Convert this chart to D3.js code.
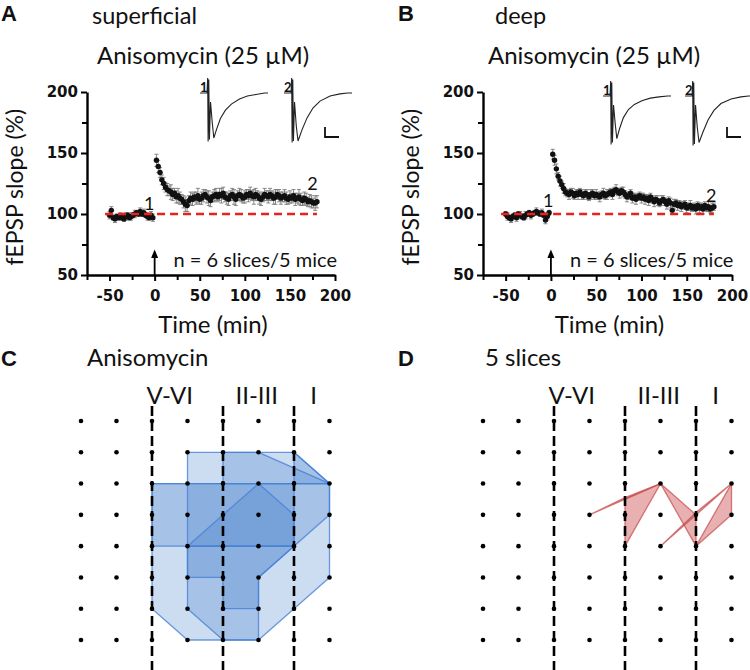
<!DOCTYPE html>
<html>
<head>
<meta charset="utf-8">
<script src="https://cdn.jsdelivr.net/npm/d3@7"></script>
<style>
  body { margin: 0; background: #fff; }
  text { font-family: Lato, "Open Sans", sans-serif; fill: #111; }
  .tick text { font-family: "DejaVu Sans", sans-serif; font-weight: bold; font-size: 15px; }
</style>
</head>
<body>
<svg id="fig" width="750" height="670"></svg>
<script>
// ---- data: sampling times (min) ----
const timesPre = [-50,-48,-46,-44,-42,-40,-38,-36,-34,-32,-30,-28,-26,-24,-22,-20,-18,-16,-14,-12,-10,-8,-6,-4,-2];
const timesPost = [2,4,6,8,10,12,14,16,18,20,22,24,26,28,30,32,34,36,38,40,
  42,44,46,48,50,52,54,56,58,60,62,64,66,68,70,72,74,76,78,80,
  82,84,86,88,90,92,94,96,98,100,102,104,106,108,110,112,114,116,118,120,
  122,124,126,128,130,132,134,136,138,140,142,144,146,148,150,152,154,156,158,160,
  162,164,166,168,170,172,174,176,178,180];

// superficial (A)
const supPre = [99,103,97,96,98,97,98,97,96,98,99,97,98,99,100,101,100,102,100,101,99,98,97,99,97];
const supPreErr = [3,3,2,3,2,2,3,2,2,3,2,2,3,2,3,2,2,3,2,3,2,3,2,3,3];
const supPost = [144,139,134,128,125,122,120,119,118,116,
  117,114,115,113,112,110,108,107,111,113,
  112,114,113,115,112,113,115,116,114,113,
  111,114,115,116,114,116,115,117,114,113,
  112,115,116,114,112,115,116,115,113,114,
  116,115,117,115,114,116,115,113,112,114,
  116,115,114,116,115,113,114,116,115,113,
  114,115,113,112,114,113,115,112,113,114,
  112,111,113,112,110,111,110,109,109,110];
const supPostErr = [5,5,4,4,5,4,5,4,6,5, 4,5,6,5,4,5,6,5,4,5, 5,4,5,6,4,5,5,4,5,6,
  5,4,5,5,4,5,6,5,4,5, 5,4,5,6,5,4,5,5,4,5, 4,5,5,4,6,5,4,5,5,4,
  5,4,5,5,4,5,6,4,5,5, 4,5,5,4,5,4,5,5,4,6, 5,4,5,5,4,5,5,4,6,5];

// deep (B)
const deepPre = [100,98,97,96,98,99,97,100,99,98,97,99,100,101,99,100,101,102,101,100,101,99,95,98,101];
const deepPreErr = [2,3,2,3,2,2,3,2,3,2,2,3,2,2,3,2,2,3,2,2,3,2,3,3,2];
const deepPost = [149,144,137,131,127,124,121,118,117,116,
  118,117,115,117,116,118,116,115,117,116,
  114,116,117,115,116,115,114,116,117,115,
  116,117,118,116,119,120,118,117,119,118,
  116,114,115,117,113,114,112,114,115,113,
  114,112,113,111,114,112,110,112,111,109,
  111,112,110,108,111,109,103,108,109,107,
  108,106,107,108,105,106,107,105,106,104,
  107,105,106,104,107,105,106,104,105,106];
const deepPostErr = [4,4,4,3,4,3,4,3,3,4, 3,4,3,3,4,3,4,3,3,4, 3,4,3,3,4,3,4,3,4,3,
  4,3,3,4,3,4,3,4,3,4, 3,4,3,3,4,3,4,3,3,4, 3,4,3,4,3,3,4,3,4,3,
  4,3,3,4,3,4,3,4,3,4, 3,4,3,3,4,3,4,3,3,4, 3,4,3,4,3,3,4,3,4,3];

// fEPSP example traces: time (ms), voltage (mV)
const traceT1 = [0,3.2,3.5,3.7,4.0,4.3,4.8,5.6,6.3,7.5,9.3,11.6,14.3,18,21.6,25.5,29.5,31];
const supTrace1 = [0,0,0.5,-1.62,0.45,-1.55,-0.3,-1.0,-1.5,-1.22,-0.85,-0.57,-0.37,-0.2,-0.1,-0.05,0,0];
const deepTrace1 = [0,0,0.5,-1.62,0.45,-1.55,-0.3,-0.95,-1.42,-1.1,-0.72,-0.45,-0.28,-0.15,-0.07,-0.03,0,0];
const traceT2 = [0,3.2,3.5,3.7,4.0,4.3,4.8,5.6,6.4,8.2,10.5,13.2,16.4,21,25.5,29,31];
const supTrace2 = [0,0,0.5,-1.65,0.45,-1.6,-0.3,-1.1,-1.6,-1.23,-0.83,-0.5,-0.27,-0.1,-0.03,0,0];
const deepTrace2 = [0,0,0.5,-1.65,0.45,-1.6,-0.3,-1.05,-1.55,-1.2,-0.8,-0.48,-0.25,-0.1,-0.03,0,0];

// grid maps (col, row)
const gridCols = [0,1,2,3,4,5,6,7];
const gridRows = [0,1,2,3,4,5,6,7];
const layerCols = [2,4,6];
const anisoPolys = [
  [[2,2],[7,2],[7,5],[5,7],[3,7],[2,6]],
  [[3,1],[6,1],[7,2],[7,3],[5,5],[5,7],[4,7],[3,6],[3,4],[2,4],[2,2],[3,2]],
  [[3,2],[6,2],[6,4],[3,4]],
  [[3,4],[5,2],[6,3],[6,4]],
  [[4,1],[5,1],[7,2],[4,2]],
  [[6,1],[7,2],[6,2]],
  [[3,4],[6,4],[5,5],[5,6],[4,6],[4,5],[3,5]]
];
const slicePolys = [
  [[3,3],[5,2],[4,2.45]],
  [[4,2.5],[5,2],[4,4]],
  [[5,2],[6,3],[6,4]],
  [[6,4],[7,2],[7,3]],
  [[5,4],[7,2],[6,2.92]]
];

const svg = d3.select("#fig");
const y = d3.scaleLinear().domain([50, 200]).range([275, 92]);

function drawLTP(xr, pre, preErr, post, postErr, lab1, lab2) {
  const g = svg.append("g");
  const x = d3.scaleLinear().domain([-75, 200]).range(xr);
  const times = timesPre.concat(timesPost);
  const vals = pre.concat(post);
  const errs = preErr.concat(postErr);
  const pts = times.map((t, i) => ({t: t, v: vals[i], e: errs[i]}));

  // error bars
  const eb = g.append("g").attr("stroke", "#7a7a7a").attr("stroke-width", 0.9);
  eb.selectAll("line.v").data(pts).join("line").attr("class", "v")
    .attr("x1", d => x(d.t)).attr("x2", d => x(d.t))
    .attr("y1", d => y(d.v - d.e)).attr("y2", d => y(d.v + d.e));
  eb.selectAll("line.ct").data(pts).join("line").attr("class", "ct")
    .attr("x1", d => x(d.t) - 2).attr("x2", d => x(d.t) + 2)
    .attr("y1", d => y(d.v + d.e)).attr("y2", d => y(d.v + d.e));
  eb.selectAll("line.cb").data(pts).join("line").attr("class", "cb")
    .attr("x1", d => x(d.t) - 2).attr("x2", d => x(d.t) + 2)
    .attr("y1", d => y(d.v - d.e)).attr("y2", d => y(d.v - d.e));

  g.selectAll("circle").data(pts).join("circle")
    .attr("cx", d => x(d.t)).attr("cy", d => y(d.v)).attr("r", 2.7).attr("fill", "#111");

  // 100% reference
  g.append("line")
    .attr("x1", x(-55)).attr("x2", x(180)).attr("y1", y(100)).attr("y2", y(100))
    .attr("stroke", "#e5231f").attr("stroke-width", 2.4).attr("stroke-dasharray", "8,5");

  // axes
  g.append("g").attr("transform", `translate(0,${y(50)})`)
    .call(d3.axisBottom(x).tickValues([-50, 0, 50, 100, 150, 200]).tickSize(6).tickSizeOuter(0).tickPadding(9).tickFormat(d => String(d)));
  const xm = g.append("g").attr("transform", `translate(0,${y(50)})`)
    .call(d3.axisBottom(x).tickValues([-75, -25, 25, 75, 125, 175]).tickSize(5).tickFormat(""));
  xm.select(".domain").remove();
  g.append("g").attr("transform", `translate(${xr[0]},0)`)
    .call(d3.axisLeft(y).tickValues([50, 100, 150, 200]).tickSize(6).tickSizeOuter(0).tickPadding(3));
  const ym = g.append("g").attr("transform", `translate(${xr[0]},0)`)
    .call(d3.axisLeft(y).tickValues([75, 125, 175]).tickSize(5).tickFormat(""));
  ym.select(".domain").remove();
  g.selectAll(".domain").attr("stroke", "#000").attr("stroke-width", 2.4);
  g.selectAll(".tick line").attr("stroke", "#000").attr("stroke-width", 2);

  // arrow at drug application
  const ax = x(0);
  g.append("line").attr("x1", ax).attr("x2", ax).attr("y1", y(50)).attr("y2", y(68))
    .attr("stroke", "#000").attr("stroke-width", 1.8);
  g.append("path").attr("d", `M${ax - 3.5},${y(64)} L${ax},${y(71)} L${ax + 3.5},${y(64)} Z`).attr("fill", "#000");

  g.append("text").attr("x", x(21)).attr("y", 267).attr("font-size", 20).text("n = 6 slices/5 mice");
  g.append("text").attr("x", x(lab1[0])).attr("y", y(lab1[1])).attr("font-size", 18).attr("text-anchor", "middle").text("1");
  g.append("text").attr("x", x(lab2[0])).attr("y", y(lab2[1])).attr("font-size", 18).attr("text-anchor", "middle").text("2");

  g.append("text").attr("x", (xr[0] + xr[1]) / 2 + 2).attr("y", 333).attr("font-size", 24)
    .attr("text-anchor", "middle").text("Time (min)");
  g.append("text").attr("transform", `translate(${xr[0] - 73},${y(122)}) rotate(-90)`)
    .attr("font-size", 23).attr("text-anchor", "middle").attr("dominant-baseline", "central")
    .text("fEPSP slope (%)");
}

function drawTrace(x0, y0, times, volts, label) {
  const tx = d3.scaleLinear().domain([0, 31]).range([x0, x0 + 68]);
  const ty = d3.scaleLinear().domain([0, -1.5]).range([y0, y0 + 45]);
  const line = d3.line().x((d, i) => tx(times[i])).y(d => ty(d));
  svg.append("path").attr("d", line(volts)).attr("fill", "none")
    .attr("stroke", "#222").attr("stroke-width", 1.1);
  svg.append("text").attr("x", x0).attr("y", y0 - 1).attr("font-size", 13).attr("font-weight", "bold").text(label);
}

function scaleBar(x0, y0) {
  svg.append("path").attr("d", `M${x0},${y0} V${y0 + 10} H${x0 + 14}`)
    .attr("fill", "none").attr("stroke", "#111").attr("stroke-width", 1.8);
}

function drawGrid(xr, polys, fill, stroke) {
  const g = svg.append("g");
  const gx = d3.scaleLinear().domain([0, 7]).range(xr);
  const gy = d3.scaleLinear().domain([0, 7]).range([421, 640]);
  g.selectAll("polygon").data(polys).join("polygon")
    .attr("points", d => d.map(p => [gx(p[0]), gy(p[1])].join(",")).join(" "))
    .attr("fill", fill).attr("stroke", stroke).attr("stroke-width", 1.3).attr("stroke-linejoin", "round");
  g.selectAll("line.layer").data(layerCols).join("line").attr("class", "layer")
    .attr("x1", d => gx(d)).attr("x2", d => gx(d)).attr("y1", 406).attr("y2", 672)
    .attr("stroke", "#000").attr("stroke-width", 2.6).attr("stroke-dasharray", "10,5");
  const dots = [];
  gridCols.forEach(c => gridRows.forEach(r => dots.push([c, r])));
  g.selectAll("circle").data(dots).join("circle")
    .attr("cx", d => gx(d[0])).attr("cy", d => gy(d[1])).attr("r", 2.3).attr("fill", "#000");
  const hdr = [["V-VI", 2.5], ["II-III", 4.95], ["I", 6.55]];
  g.selectAll("text.hdr").data(hdr).join("text").attr("class", "hdr")
    .attr("x", d => gx(d[1])).attr("y", 404).attr("font-size", 24).attr("text-anchor", "middle")
    .text(d => d[0]);
}

// panel titles
function title(x, y, s, size, bold) {
  svg.append("text").attr("x", x).attr("y", y).attr("font-size", size)
    .attr("font-weight", bold ? "bold" : null)
    .style("font-family", bold ? "'Liberation Sans', Arial, sans-serif" : null).text(s);
}
title(1, 21, "A", 22, true);
title(92, 24, "superficial", 23.5);
title(97, 64, "Anisomycin (25 µM)", 24);
title(398, 21, "B", 22, true);
title(495, 24, "deep", 23.5);
title(488, 64, "Anisomycin (25 µM)", 24);
title(1, 366, "C", 22, true);
title(87, 366, "Anisomycin", 24);
title(398, 366, "D", 22, true);
title(485, 366, "5 slices", 24);

drawLTP([87, 335], supPre, supPreErr, supPost, supPostErr, [-6, 103], [175, 120]);
drawLTP([483, 732], deepPre, deepPreErr, deepPost, deepPostErr, [-3, 106], [177, 110]);

drawTrace(200, 93, traceT1, supTrace1, "1");
drawTrace(284, 93, traceT2, supTrace2, "2");
scaleBar(325, 127);
drawTrace(603, 96, traceT1, deepTrace1, "1");
drawTrace(685, 96, traceT2, deepTrace2, "2");
scaleBar(727, 127);

drawGrid([81, 329.5], anisoPolys, "rgba(66,125,205,0.27)", "rgba(70,130,215,0.8)");
drawGrid([483, 731.5], slicePolys, "rgba(205,80,80,0.45)", "rgba(200,80,80,0.75)");
</script>
</body>
</html>
